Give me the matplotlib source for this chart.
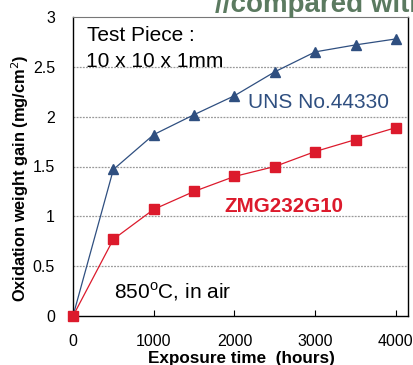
import matplotlib
matplotlib.use("Agg")
import matplotlib.pyplot as plt

hours = [0, 500, 1000, 1500, 2000, 2500, 3000, 3500, 4000]
uns_gain = [0.0, 1.47, 1.82, 2.02, 2.21, 2.45, 2.65, 2.72, 2.78]
zmg_gain = [0.0, 0.77, 1.07, 1.25, 1.40, 1.50, 1.65, 1.77, 1.89]
xticks = [0, 1000, 2000, 3000, 4000]
yticks = [0, 0.5, 1, 1.5, 2, 2.5, 3]
ytick_labels = ["0", "0.5", "1", "1.5", "2", "2.5", "3"]

plt.rcParams['font.family'] = ['Liberation Sans', 'DejaVu Sans']

blue = '#2f4f80'
red = '#dc1a2c'

fig = plt.figure(figsize=(4.13, 3.65), dpi=100)
ax = fig.add_axes([73/413, 1-316/365, (408-73)/413, (316-17)/365])

ax.plot(hours, uns_gain, color=blue, lw=0.9, marker='^', ms=6.5, mec=blue, mfc=blue, zorder=3)
ax.plot(hours, zmg_gain, color=red, lw=0.9, marker='s', ms=6.7, mec=red, mfc=red, zorder=4, clip_on=False)

ax.set_xlim(0, 4150)
ax.set_ylim(0, 3)
ax.set_xticks(xticks)
ax.set_xticklabels([str(v) for v in xticks])
ax.set_yticks(yticks)
ax.set_yticklabels(ytick_labels)
ax.tick_params(axis='x', direction='in', length=4, labelsize=11.5, pad=13)
ax.tick_params(axis='y', length=0, labelsize=11.5, pad=13)
for v in yticks[1:-1]:
    ax.axhline(v, color='#999999', lw=0.9, ls=(0, (1.5, 1)), zorder=1)

for s in ['left', 'bottom', 'right']:
    ax.spines[s].set_color('black')
    ax.spines[s].set_linewidth(1.0)
ax.spines['top'].set_color('#777777')
ax.spines['top'].set_linestyle((0, (1.5, 1)))

fig.text(241/413, 1-358/365, 'Exposure time  (hours)', fontsize=12.3, fontweight='bold',
         ha='center', va='center')
fig.text(20/413, 1-178/365, 'Oxidation weight gain (mg/cm$^2$)', fontsize=11.8, fontweight='bold',
         rotation=90, ha='center', va='center')

ax.text(173, 2.762, 'Test Piece :', fontsize=15, va='baseline', ha='left')
ax.text(161, 2.498, '10 x 10 x 1mm', fontsize=15, va='baseline', ha='left')
ax.text(2167, 2.087, 'UNS No.44330', fontsize=15, color=blue, va='baseline', ha='left')
ax.text(1870, 1.043, 'ZMG232G10', fontsize=14.8, color=red, fontweight='bold', va='baseline', ha='left')
ax.text(508, 0.181, '850$^{\\mathregular{o}}$C, in air', fontsize=15, va='baseline', ha='left')

fig.text(215/413, 1-12.5/365, '//compared with', fontsize=20, fontweight='bold', color='#5b7a60', ha='left', va='baseline')

fig.savefig('out.png', dpi=100)
